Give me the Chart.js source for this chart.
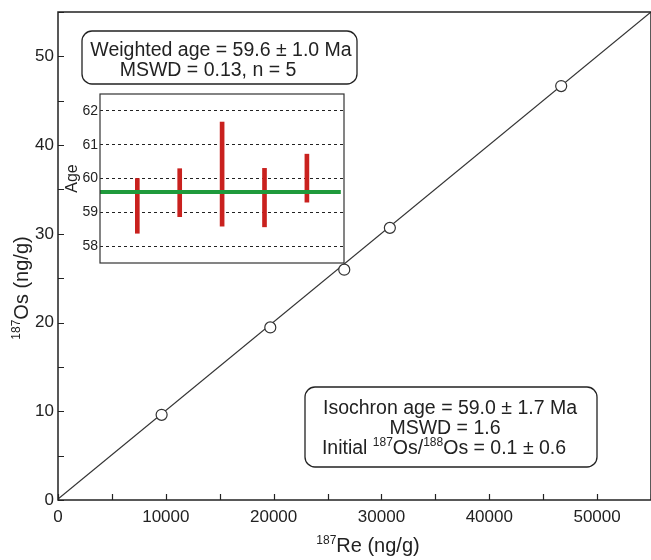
<!DOCTYPE html>
<html>
<head>
<meta charset="utf-8">
<script src="https://cdn.jsdelivr.net/npm/chart.js@4.4.1/dist/chart.umd.min.js"></script>
<style>
  html, body { margin:0; padding:0; background:#fff; }
  #wrap { position:relative; width:651px; height:560px; }
  #main { position:absolute; left:0; top:0; }
  #inset { position:absolute; left:56px; top:86px; }
</style>
</head>
<body>
<div id="wrap">
  <canvas id="main" width="651" height="560"></canvas>
  <canvas id="inset" width="294" height="182"></canvas>
</div>
<script>
// isochron data
var reX = [9610, 19690, 26550, 30780, 46670];
var osY = [9.6, 19.45, 25.96, 30.67, 46.65];
var isoX = [0, 55000];
var isoY = [0.1, 55.0];
var xTicks = [0, 5000, 10000, 15000, 20000, 25000, 30000, 35000, 40000, 45000, 50000, 55000];
var yTicks = [0, 5, 10, 15, 20, 25, 30, 35, 40, 45, 50, 55];
var xLabels = [0, 10000, 20000, 30000, 40000, 50000];
var yLabels = [0, 10, 20, 30, 40, 50];

// weighted age inset
var sampleNo = [1, 2, 3, 4, 5];
var ageLow = [58.38, 58.87, 58.59, 58.57, 59.30];
var ageHigh = [60.0, 60.29, 61.67, 60.30, 60.72];
var meanAge = 59.6;
var meanSpan = [0.12, 5.8];
var ageTicks = [58, 59, 60, 61, 62];

var FONT = '"Liberation Sans", Arial, sans-serif';
Chart.defaults.font.family = FONT;
Chart.defaults.color = '#222';

// draw text with superscript parts, centred on cx, vertically centred on cy
function richText(ctx, parts, cx, cy, size) {
  var sup = Math.round(size * 0.6);
  var w = 0;
  parts.forEach(function (p) {
    ctx.font = (p[1] ? sup : size) + 'px ' + FONT;
    w += ctx.measureText(p[0]).width;
  });
  var x = cx - w / 2;
  ctx.textAlign = 'left';
  ctx.textBaseline = 'alphabetic';
  parts.forEach(function (p) {
    ctx.font = (p[1] ? sup : size) + 'px ' + FONT;
    ctx.fillText(p[0], x, cy + size * 0.36 - (p[1] ? size * 0.42 : 0));
    x += ctx.measureText(p[0]).width;
  });
}

function box(ctx, x, y, w, h) {
  ctx.beginPath();
  ctx.roundRect(x, y, w, h, 10);
  ctx.fillStyle = '#fff';
  ctx.fill();
  ctx.lineWidth = 1.3;
  ctx.strokeStyle = '#222';
  ctx.stroke();
}

function noPad(s) {
  s.paddingLeft = 0; s.paddingRight = 0; s.paddingTop = 0; s.paddingBottom = 0;
}

var mainDecor = {
  id: 'mainDecor',
  afterDraw: function (chart) {
    var ctx = chart.ctx, a = chart.chartArea;
    var xs = chart.scales.x, ys = chart.scales.y;
    ctx.save();
    ctx.strokeStyle = '#222';
    ctx.lineWidth = 1.5;
    ctx.strokeRect(a.left, a.top, a.right - a.left, a.bottom - a.top);
    // inward ticks
    ctx.lineWidth = 1.2;
    ctx.beginPath();
    xTicks.forEach(function (v) {
      var px = Math.round(xs.getPixelForValue(v)) + 0.5;
      ctx.moveTo(px, a.bottom);
      ctx.lineTo(px, a.bottom - 6);
    });
    yTicks.forEach(function (v) {
      var py = Math.round(ys.getPixelForValue(v)) + 0.5;
      ctx.moveTo(a.left, py);
      ctx.lineTo(a.left + 6, py);
    });
    ctx.stroke();

    ctx.fillStyle = '#222';
    // axis titles
    richText(ctx, [['187', true], ['Re (ng/g)', false]], 368, 545, 20);
    ctx.save();
    ctx.translate(21, 288);
    ctx.rotate(-Math.PI / 2);
    ctx.fillStyle = '#222';
    richText(ctx, [['187', true], ['Os (ng/g)', false]], 0, 0, 20);
    ctx.restore();

    // weighted age box
    box(ctx, 82, 31, 275, 53);
    ctx.fillStyle = '#222';
    richText(ctx, [['Weighted age = 59.6 \u00b1 1.0 Ma', false]], 221, 49, 19.5);
    richText(ctx, [['MSWD = 0.13, n = 5', false]], 208, 69, 19.5);

    // isochron box
    box(ctx, 305, 387, 292, 80);
    ctx.fillStyle = '#222';
    richText(ctx, [['Isochron age = 59.0 \u00b1 1.7 Ma', false]], 450, 407, 19.5);
    richText(ctx, [['MSWD = 1.6', false]], 445, 427, 19.5);
    richText(ctx, [['Initial ', false], ['187', true], ['Os/', false], ['188', true], ['Os = 0.1 \u00b1 0.6', false]], 444, 447, 19.5);
    ctx.restore();
  }
};

new Chart(document.getElementById('main'), {
  type: 'scatter',
  data: {
    datasets: [
      {
        type: 'line',
        data: isoX.map(function (x, i) { return { x: x, y: isoY[i] }; }),
        borderColor: '#333',
        borderWidth: 1.2,
        pointRadius: 0,
        order: 2
      },
      {
        data: reX.map(function (x, i) { return { x: x, y: osY[i] }; }),
        pointRadius: 5.5,
        pointBackgroundColor: '#fff',
        pointBorderColor: '#333',
        pointBorderWidth: 1.2,
        order: 1
      }
    ]
  },
  options: {
    responsive: false,
    animation: false,
    devicePixelRatio: 1,
    layout: { autoPadding: false, padding: { top: 12, right: 0, left: 0, bottom: 0 } },
    plugins: { legend: { display: false }, tooltip: { enabled: false } },
    scales: {
      x: {
        type: 'linear', min: 0, max: 55000,
        afterBuildTicks: function (s) { s.ticks = xTicks.map(function (v) { return { value: v }; }); },
        afterFit: function (s) { s.height = 60; noPad(s); },
        grid: { display: false, drawTicks: false },
        border: { display: false },
        ticks: {
          autoSkip: false, maxRotation: 0, padding: 7, color: '#222', font: { size: 17 },
          callback: function (v) { return xLabels.indexOf(v) >= 0 ? String(v) : ''; }
        }
      },
      y: {
        type: 'linear', min: 0, max: 55,
        afterBuildTicks: function (s) { s.ticks = yTicks.map(function (v) { return { value: v }; }); },
        afterFit: function (s) { s.width = 58; noPad(s); },
        grid: { display: false, drawTicks: false },
        border: { display: false },
        ticks: {
          autoSkip: false, padding: 4, color: '#222', font: { size: 17 },
          callback: function (v) { return yLabels.indexOf(v) >= 0 ? String(v) : ''; }
        }
      }
    }
  },
  plugins: [mainDecor]
});

var insetDecor = {
  id: 'insetDecor',
  beforeDraw: function (chart) {
    var ctx = chart.ctx, a = chart.chartArea;
    ctx.save();
    ctx.fillStyle = '#fff';
    ctx.fillRect(a.left, a.top, a.right - a.left, a.bottom - a.top);
    ctx.restore();
  },
  afterDraw: function (chart) {
    var ctx = chart.ctx, a = chart.chartArea;
    ctx.save();
    ctx.strokeStyle = '#333';
    ctx.lineWidth = 1.2;
    ctx.strokeRect(a.left, a.top, a.right - a.left, a.bottom - a.top);
    ctx.restore();
  }
};

new Chart(document.getElementById('inset'), {
  type: 'bar',
  data: {
    datasets: [
      {
        type: 'line',
        data: meanSpan.map(function (x) { return { x: x, y: meanAge }; }),
        borderColor: '#1f9a3c',
        borderWidth: 4,
        pointRadius: 0,
        order: 0
      },
      {
        type: 'bar',
        data: sampleNo.map(function (n, i) { return { x: n, y: [ageLow[i], ageHigh[i]] }; }),
        backgroundColor: '#c9211e',
        barThickness: 4,
        order: 1
      }
    ]
  },
  options: {
    responsive: false,
    animation: false,
    devicePixelRatio: 1,
    layout: { autoPadding: false, padding: { top: 8, right: 6, bottom: 5, left: 0 } },
    plugins: { legend: { display: false }, tooltip: { enabled: false } },
    scales: {
      x: { type: 'linear', min: 0.12, max: 5.875, offset: false, display: false },
      y: {
        min: 57.5, max: 62.5,
        afterBuildTicks: function (s) { s.ticks = ageTicks.map(function (v) { return { value: v }; }); },
        afterFit: function (s) { s.width = 44; noPad(s); },
        grid: { color: '#222', lineWidth: 1, drawTicks: false },
        border: { display: false, dash: [3, 3] },
        ticks: { padding: 2, color: '#222', font: { size: 14 } },
        title: { display: true, text: 'Age', color: '#222', font: { size: 16 }, padding: { top: 7, bottom: 0 } }
      }
    }
  },
  plugins: [insetDecor]
});
</script>
</body>
</html>
